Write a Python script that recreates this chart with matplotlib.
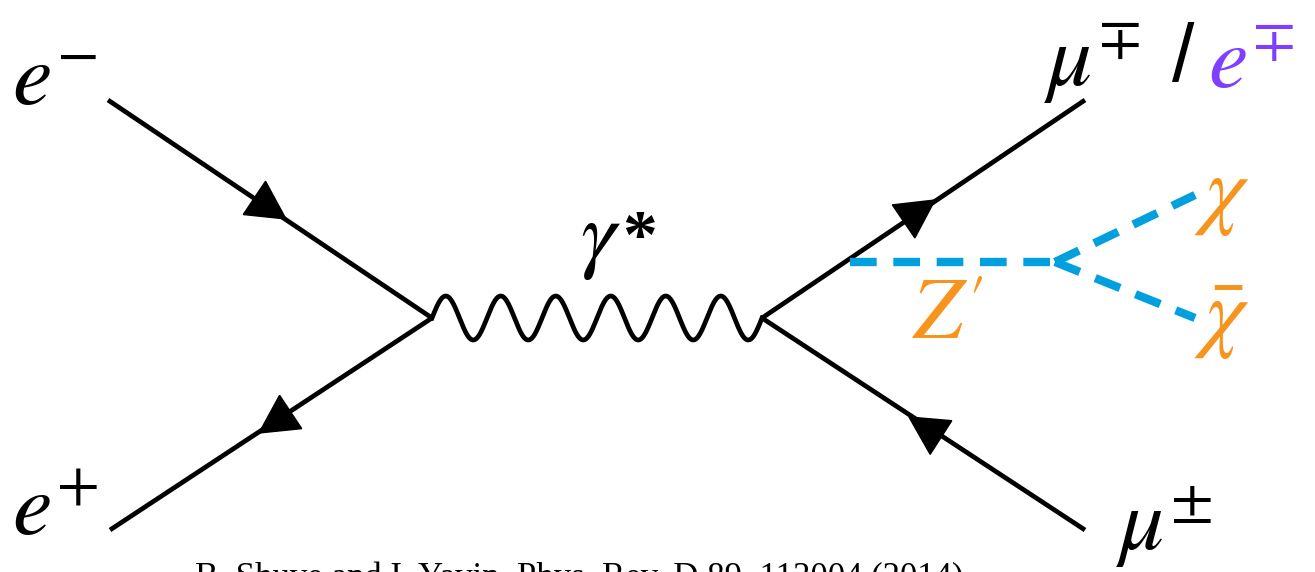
import numpy as np
import matplotlib.pyplot as plt
from matplotlib.patches import Polygon

plt.rcParams['mathtext.fontset'] = 'stix'

# vertices of the diagram, in pixel units (y grows downward)
left_vtx = (432, 318)
right_vtx = (762, 318)
ends = {
    'e_minus': (108, 100),
    'e_plus': (110, 530),
    'mu_top': (1085, 100),
    'mu_bot': (1085, 530),
}
# arrow tips and the point on the line they point away from
arrows = [
    ((286, 219), ends['e_minus']),
    ((259, 433), left_vtx),
    ((935, 200), right_vtx),
    ((909, 417), ends['mu_bot']),
]
# dark-sector branch
zp_start = (850, 262)
zp_vtx = (1055, 262)
chi_ends = [(1195, 195), (1195, 318)]

n_waves = 6
wave_amp = 22

BLUE = '#00a0df'
ORANGE = '#f7941d'
PURPLE = '#7f3fff'

fig = plt.figure(figsize=(13.15, 5.72), dpi=100)
ax = fig.add_axes([0, 0, 1, 1])
ax.set_xlim(0, 1315)
ax.set_ylim(572, 0)
ax.axis('off')

# fermion lines
for name, start in [('e_minus', left_vtx), ('e_plus', left_vtx),
                    ('mu_top', right_vtx), ('mu_bot', right_vtx)]:
    x0, y0 = ends[name]
    ax.plot([x0, start[0]], [y0, start[1]], color='black', lw=3.4,
            solid_capstyle='butt')

# arrowheads
for tip, tail in arrows:
    tip = np.array(tip, float)
    d = tip - np.array(tail, float)
    d /= np.hypot(*d)
    n = np.array([-d[1], d[0]])
    base = tip - 38 * d
    tri = [tip, base + 20 * n, base - 20 * n]
    ax.add_patch(Polygon(tri, closed=True, color='black', zorder=3))

# virtual photon
xs = np.linspace(left_vtx[0], right_vtx[0], 600)
ys = left_vtx[1] - wave_amp * np.sin(2 * np.pi * n_waves * (xs - xs[0]) / (xs[-1] - xs[0]))
ax.plot(xs, ys, color='black', lw=3.4)

# Z' and chi pair
dash = dict(color=BLUE, lw=6, linestyle=(0, (3.2, 2.0)), solid_capstyle='butt')
ax.plot([zp_start[0], zp_vtx[0]], [zp_start[1], zp_vtx[1]], **dash)
for cx, cy in chi_ends:
    ax.plot([zp_vtx[0], cx], [zp_vtx[1], cy], **dash)

fs = 64
ax.text(12, 105, r'$e^{-}$', fontsize=fs, va='baseline', ha='left')
ax.text(12, 535, r'$e^{+}$', fontsize=fs, va='baseline', ha='left')
ax.text(1044, 86, r'$\mu^{\mp}$', fontsize=fs, va='baseline', ha='left')
ax.text(1172, 81, '/', fontsize=58, va='baseline', ha='left',
        family='Liberation Sans')
ax.text(1208, 88, r'$e^{\mp}$', fontsize=fs, va='baseline', ha='left', color=PURPLE)
ax.text(1116, 550, r'$\mu^{\pm}$', fontsize=fs, va='baseline', ha='left')
ax.text(580, 262, r'$\gamma$', fontsize=fs, va='baseline', ha='left')
ax.text(622, 258, '*', fontsize=50, va='baseline', ha='left',
        family='Liberation Serif', fontweight='bold')
ax.text(912, 338, r'$Z$', fontsize=fs, va='baseline', ha='left', color=ORANGE)
ax.text(968, 316, r'$\prime$', fontsize=44, va='baseline', ha='left', color=ORANGE)
ax.text(1194, 218, r'$\chi$', fontsize=fs, va='baseline', ha='left', color=ORANGE)
ax.text(1194, 342, r'$\bar{\chi}$', fontsize=fs, va='baseline', ha='left', color=ORANGE)

ax.text(195, 587, 'B. Shuve and I. Yavin, Phys. Rev. D 89, 113004 (2014)',
        fontsize=25, family='Liberation Serif', va='baseline', ha='left')

fig.savefig('out.png', dpi=100)
